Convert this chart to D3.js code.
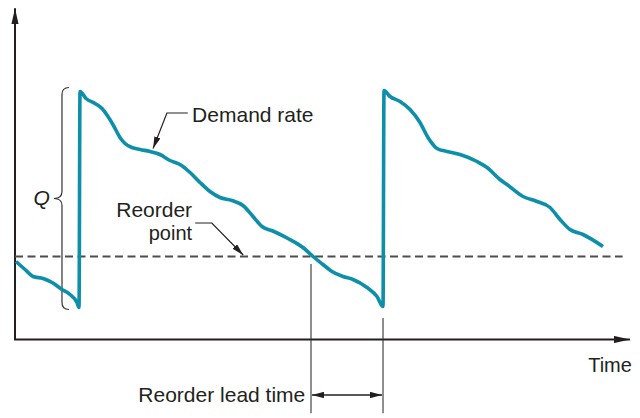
<!DOCTYPE html>
<html>
<head>
<meta charset="utf-8">
<script src="https://cdn.jsdelivr.net/npm/d3@7/dist/d3.min.js"></script>
<style>
  html, body { margin: 0; padding: 0; background: #fff; }
  svg { display: block; }
  text { font-family: "Liberation Sans", Arial, Helvetica, sans-serif; fill: #231f20; }
</style>
</head>
<body>
<script>
// ---- Data (time units 0..100, inventory units) ----
const cycle0Time = [0.16, 1.63, 2.93, 4.55, 6.02, 7.64, 8.94, 10.08, 10.41];
const cycle0Inv  = [31.2, 28.0, 25.2, 24.4, 22.8, 20.0, 18.0, 14.8, 12.8];

const cycle1Time = [10.57, 11.54, 13.01, 14.15, 15.12, 16.10, 17.07, 17.89, 19.02, 20.33, 21.95, 23.58, 25.20, 26.83, 28.46, 30.08, 31.71, 33.33, 35.28, 37.07, 38.70, 40.16, 42.11, 44.39, 46.83, 48.46, 50.08, 51.54, 53.33, 54.96, 57.24, 58.86, 59.84];
const cycle1Inv  = [99.2, 96.4, 94.4, 92.4, 89.2, 85.2, 80.8, 78.4, 76.8, 76.0, 75.2, 74.0, 71.6, 70.0, 66.8, 62.8, 59.2, 56.8, 55.6, 53.6, 49.2, 45.2, 43.2, 40.4, 36.8, 33.2, 30.0, 27.2, 25.2, 24.0, 20.8, 17.2, 13.2];

const cycle2Time = [60.0, 60.98, 62.60, 64.23, 65.85, 67.15, 68.62, 70.24, 72.36, 75.12, 76.75, 78.86, 80.0, 82.60, 84.88, 86.99, 88.62, 90.24, 92.36, 95.61];
const cycle2Inv  = [99.6, 97.2, 95.2, 92.0, 86.8, 80.8, 76.4, 75.2, 74.0, 71.2, 68.8, 64.0, 62.0, 57.2, 55.2, 52.8, 48.0, 44.0, 42.0, 37.2];

const reorderPoint = 33.2;
const reorderTime = 48.13;
const receiptTime = 59.84;
const orderQty = [12.0, 100.8]; // bottom and top of Q
const labels = { demand: "Demand rate", reorder1: "Reorder", reorder2: "point", q: "Q", time: "Time", lead: "Reorder lead time" };

// ---- Setup ----
const W = 640, H = 418;
const x = d3.scaleLinear().domain([0, 100]).range([15, 630]);
const y = d3.scaleLinear().domain([0, 130]).range([339.5, 14.5]);

const svg = d3.select("body").append("svg").attr("width", W).attr("height", H);
const defs = svg.append("defs");
function marker(id, len, half) {
  defs.append("marker").attr("id", id)
    .attr("markerUnits", "userSpaceOnUse")
    .attr("viewBox", `0 ${-half} ${len} ${half*2}`)
    .attr("refX", len).attr("refY", 0)
    .attr("markerWidth", len).attr("markerHeight", half*2)
    .attr("orient", "auto-start-reverse")
    .append("path").attr("d", `M0,${-half}L${len},0L0,${half}Z`).attr("fill", "#231f20");
}
marker("axisArrow", 16, 3.6);
marker("smallArrow", 12, 3.2);

const ink = "#231f20";

// Axes
svg.append("line")
  .attr("x1", x(0)).attr("y1", y(0)).attr("x2", x(0)).attr("y2", y(132.5))
  .attr("stroke", ink).attr("stroke-width", 2).attr("marker-end", "url(#axisArrow)");
svg.append("line")
  .attr("x1", x(0) - 1).attr("y1", y(0)).attr("x2", x(100)).attr("y2", y(0))
  .attr("stroke", ink).attr("stroke-width", 2).attr("marker-end", "url(#axisArrow)");

// Reorder point dashed line
svg.append("line")
  .attr("x1", x(0)).attr("x2", x(98.8))
  .attr("y1", y(reorderPoint)).attr("y2", y(reorderPoint))
  .attr("stroke", "#4d4d4d").attr("stroke-width", 1.8).attr("stroke-dasharray", "8,4.5");

// Lead time vertical lines
svg.append("line")
  .attr("x1", x(reorderTime)).attr("x2", x(reorderTime))
  .attr("y1", y(reorderPoint - 3)).attr("y2", y(-29.5))
  .attr("stroke", "#333").attr("stroke-width", 1.1);
svg.append("line")
  .attr("x1", x(receiptTime)).attr("x2", x(receiptTime))
  .attr("y1", y(8.6)).attr("y2", y(-29.5))
  .attr("stroke", "#333").attr("stroke-width", 1.1);

// Double arrow
svg.append("line")
  .attr("x1", x(reorderTime) + 1).attr("x2", x(receiptTime) - 1)
  .attr("y1", y(-22.2)).attr("y2", y(-22.2))
  .attr("stroke", ink).attr("stroke-width", 1.3)
  .attr("marker-start", "url(#smallArrow)").attr("marker-end", "url(#smallArrow)");

// Brace for Q
const bx = x(7.64), bt = y(orderQty[1]), bb = y(orderQty[0]);
const bm = (bt + bb) / 2, r = 7, tip = 8;
svg.append("path")
  .attr("d", `M${bx + r},${bt} Q${bx},${bt} ${bx},${bt + r} L${bx},${bm - r} Q${bx},${bm} ${bx - tip},${bm} Q${bx},${bm} ${bx},${bm + r} L${bx},${bb - r} Q${bx},${bb} ${bx + r},${bb}`)
  .attr("fill", "none").attr("stroke", "#333").attr("stroke-width", 1.2);

// Demand curve
const pts = [];
cycle0Time.forEach((t, i) => pts.push([t, cycle0Inv[i]]));
cycle1Time.forEach((t, i) => pts.push([t, cycle1Inv[i]]));
cycle2Time.forEach((t, i) => pts.push([t, cycle2Inv[i]]));
const line = d3.line().x(d => x(d[0])).y(d => y(d[1])).curve(d3.curveMonotoneX);
svg.append("path").datum(pts).attr("d", line)
  .attr("fill", "none").attr("stroke", "#0d8fa9").attr("stroke-width", 3.6)
  .attr("stroke-linejoin", "round");

// Leaders
svg.append("path")
  .attr("d", `M${x(28.1)},${y(90.6)} L${x(24.7)},${y(90.6)} L${x(22.45)},${y(76.4)}`)
  .attr("fill", "none").attr("stroke", ink).attr("stroke-width", 1.2)
  .attr("marker-end", "url(#smallArrow)");
svg.append("path")
  .attr("d", `M${x(29.3)},${y(46.6)} L${x(32.0)},${y(46.6)} L${x(37.1)},${y(reorderPoint + 0.6)}`)
  .attr("fill", "none").attr("stroke", ink).attr("stroke-width", 1.2)
  .attr("marker-end", "url(#smallArrow)");

// Text
const fs = 21;
svg.append("text").attr("x", x(28.8)).attr("y", y(87.0)).attr("font-size", fs).text(labels.demand);
svg.append("text").attr("x", x(28.8)).attr("y", y(49.0)).attr("font-size", fs).attr("text-anchor", "end").text(labels.reorder1);
svg.append("text").attr("x", x(28.8)).attr("y", y(39.8)).attr("font-size", 20).attr("text-anchor", "end").text(labels.reorder2);
svg.append("text").attr("x", x(3.0)).attr("y", y(53.8)).attr("font-size", 21).attr("font-style", "italic").text(labels.q);
svg.append("text").attr("x", x(93.2)).attr("y", y(-13.0)).attr("font-size", 20).text(labels.time);
svg.append("text").attr("x", x(47.2)).attr("y", y(-25.0)).attr("font-size", fs).attr("text-anchor", "end").text(labels.lead);
</script>
</body>
</html>
